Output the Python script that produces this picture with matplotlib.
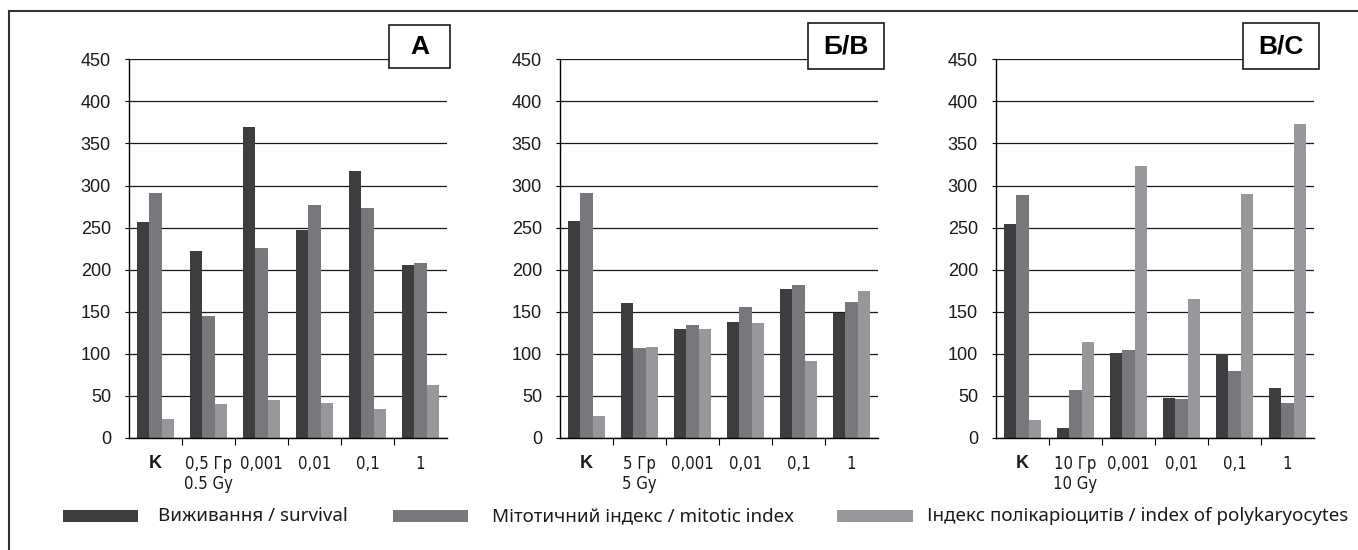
import matplotlib
matplotlib.use('Agg')
import matplotlib.pyplot as plt
from matplotlib.patches import Rectangle
import numpy as np

# categories per panel
cats_a = ['K', '0,5 Гр\n0.5 Gy', '0,001', '0,01', '0,1', '1']
cats_b = ['K', '5 Гр\n5 Gy', '0,001', '0,01', '0,1', '1']
cats_c = ['K', '10 Гр\n10 Gy', '0,001', '0,01', '0,1', '1']

# panel A
survival_a = [257, 222, 370, 247, 317, 205]
mitotic_a = [291, 145, 226, 277, 273, 208]
polykar_a = [22, 40, 45, 41, 35, 63]

# panel Б/B
survival_b = [258, 161, 130, 138, 177, 148]
mitotic_b = [291, 107, 134, 156, 182, 162]
polykar_b = [26, 108, 129, 137, 92, 175]

# panel В/C
survival_c = [254, 12, 101, 48, 100, 60]
mitotic_c = [289, 57, 104, 46, 80, 42]
polykar_c = [21, 114, 323, 165, 290, 373]

panel_labels = ['А', 'Б/В', 'В/С']
series_labels = ['Виживання / survival',
                 'Мітотичний індекс / mitotic index',
                 'Індекс полікаріоцитів / index of polykaryocytes']
colors = ['#3e3e40', '#77787b', '#97989c']

W, H = 1358, 550
fig = plt.figure(figsize=(W / 100, H / 100), dpi=100)


def fx(px):
    return px / W


def fy(py):
    return 1 - py / H


def draw_panel(left_px, cats, data):
    ax = fig.add_axes([fx(left_px), fy(438), fx(318), (438 - 59.3) / H])
    x = np.arange(len(cats))
    w = 0.235
    for i, vals in enumerate(data):
        ax.bar(x + (i - 1) * w, vals, width=w, color=colors[i], zorder=2)
    ax.set_xlim(-0.5, len(cats) - 0.5)
    ax.set_ylim(0, 450)
    ax.set_yticks(np.arange(0, 451, 50))
    ax.yaxis.grid(True, color='#1a1a1a', linewidth=0.9, zorder=0)
    ax.set_axisbelow(True)
    for s in ['top', 'right']:
        ax.spines[s].set_visible(False)
    ax.spines['left'].set_linewidth(1.0)
    ax.spines['bottom'].set_linewidth(1.0)
    ax.tick_params(axis='y', length=3, pad=10, labelsize=13, labelcolor='#1a1a1a')
    for t in ax.get_yticklabels():
        t.set_family(['Liberation Sans', 'DejaVu Sans'])
    # boundary ticks on the x axis, labels centred under groups
    ax.set_xticks(np.arange(0.5, len(cats) - 1, 1.0))
    ax.set_xticklabels([])
    ax.tick_params(axis='x', which='major', length=5, direction='out')
    ax.set_xticks(x, minor=True)
    ax.set_xticklabels(cats, minor=True, linespacing=1.2,
                       family=['DejaVu Sans'], fontstretch='condensed',
                       fontsize=12, color='#1a1a1a')
    ax.tick_params(axis='x', which='minor', length=0, pad=12)
    k = ax.get_xticklabels(minor=True)[0]
    k.set_fontweight('bold')
    k.set_family(['Liberation Sans', 'DejaVu Sans'])
    k.set_fontsize(13)
    return ax


draw_panel(129, cats_a, [survival_a, mitotic_a, polykar_a])
draw_panel(560, cats_b, [survival_b, mitotic_b, polykar_b])
draw_panel(996, cats_c, [survival_c, mitotic_c, polykar_c])

# panel letter boxes
boxes = [(389, 25, 61, 43), (808, 23, 76, 46), (1243, 23, 76, 46)]
for (bx, by, bw, bh), lab in zip(boxes, panel_labels):
    fig.patches.append(Rectangle((fx(bx), fy(by + bh)), fx(bw), bh / H,
                                 transform=fig.transFigure, facecolor='white',
                                 edgecolor='#1a1a1a', linewidth=1.2, zorder=5))
    fig.text(fx(bx + bw / 2), fy(by + bh / 2), lab, ha='center', va='center',
             fontsize=19, fontweight='bold', family=['Liberation Sans', 'DejaVu Sans'],
             zorder=6)

# outer frame (left and top edges)
fig.add_artist(plt.Line2D([fx(9), fx(9)], [0, fy(11)], transform=fig.transFigure,
                          color='#333333', linewidth=1.5))
fig.add_artist(plt.Line2D([fx(9), 1], [fy(11), fy(11)], transform=fig.transFigure,
                          color='#333333', linewidth=1.5))

# legend
swatches = [(63, 138, 158), (393, 468, 492), (837, 913, 927)]
for (x0, x1, tx), lab, c in zip(swatches, series_labels, colors):
    fig.patches.append(Rectangle((fx(x0), fy(522)), fx(x1 - x0), 12 / H,
                                 transform=fig.transFigure, facecolor=c,
                                 edgecolor='none'))
    fig.text(fx(tx), fy(516), lab, ha='left', va='center', fontsize=13.5,
             family=['Noto Sans', 'DejaVu Sans'], color='#1a1a1a')

fig.savefig('out.png', dpi=100)
